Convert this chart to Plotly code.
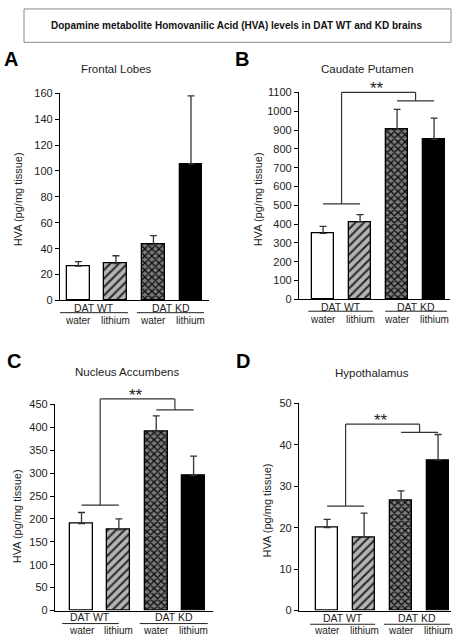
import plotly.graph_objects as go

W, H = 460, 644

# ---------------- data ----------------
groups = ["DAT WT", "DAT KD"]
treatments = ["water", "lithium", "water", "lithium"]
bar_x = [0, 1, 2, 3]

frontal_mean = [26.5, 28.5, 43, 105.5]
frontal_err = [3.5, 6, 7, 52.5]

caudate_mean = [351, 412, 903, 850]
caudate_err = [37, 38, 107, 113]

accumbens_mean = [190, 176, 390, 295]
accumbens_err = [24, 24, 35, 42]

hypo_mean = [20, 17.7, 26.5, 36.3]
hypo_err = [2, 5.8, 2.4, 6.2]

panel_titles = ["Frontal Lobes", "Caudate Putamen", "Nucleus Accumbens", "Hypothalamus"]
panel_letters = ["A", "B", "C", "D"]
header = "Dopamine metabolite Homovanilic Acid (HVA) levels in DAT WT and KD brains"
y_title = "HVA (pg/mg tissue)"

# significance brackets: (wt line level, top level, kd line level)
brackets = [None, (508, 1100, 1055), (230, 462, 438), (25.2, 45, 43)]

FONT = "Liberation Sans, Arial, sans-serif"

def px(x):
    return x / W

def py(y):
    return 1 - y / H

# panel geometry (pixels)
panels = [
    dict(xp=(60, 209), yp=(89, 300), xr=(-0.49, 3.48), yr=(0, 160), dt=20,
         mean=frontal_mean, err=frontal_err,
         title=(117, 64), letter=(10.5, 53.5), ytit=(18, 197),
         lab=(307.5, 312.5, 320), wt=(-0.49, 1.32), kd=(1.56, 3.35)),
    dict(xp=(299, 450), yp=(88, 299), xr=(-0.65, 3.43), yr=(0, 1100), dt=100,
         mean=caudate_mean, err=caudate_err,
         title=(367, 64), letter=(241.5, 53.5), ytit=(258, 197),
         lab=(306.5, 311, 319.5), wt=(-0.4, 1.35), kd=(1.68, 3.35)),
    dict(xp=(55, 213), yp=(406, 616), xr=(-0.71, 3.52), yr=(0, 450), dt=50,
         mean=accumbens_mean, err=accumbens_err,
         title=(127, 373), letter=(14, 362), ytit=(17, 520),
         lab=(622.5, 629.3, 636), wt=(-0.52, 1.0), kd=(1.56, 3.38)),
    dict(xp=(299, 451), yp=(405, 616), xr=(-0.76, 3.35), yr=(0, 50), dt=10,
         mean=hypo_mean, err=hypo_err,
         title=(372, 374), letter=(243, 362), ytit=(267, 514),
         lab=(623.5, 630, 636), wt=(-0.46, 1.3), kd=(1.54, 3.32)),
]

# bar styles: white / light-grey hatched / dark-grey cross-hatched / black
bar_styles = [
    dict(color="white", pattern=dict(shape="")),
    dict(color="#b4b4b4", pattern=dict(shape="/", fgcolor="#2a2a2a", fgopacity=1,
                                       size=6, solidity=0.35, fillmode="overlay")),
    dict(color="#7a7a7a", pattern=dict(shape="x", fgcolor="#0c0c0c", fgopacity=1,
                                       size=5, solidity=0.45, fillmode="overlay")),
    dict(color="black", pattern=dict(shape="")),
]

fig = go.Figure()
shapes = []
annotations = []

# header box
shapes.append(dict(type="rect", xref="paper", yref="paper",
                   x0=px(24), x1=px(451), y0=py(37), y1=py(3),
                   line=dict(color="#8a8a8a", width=1), fillcolor="rgba(0,0,0,0)"))
annotations.append(dict(text="<b>" + header + "</b>", xref="paper", yref="paper",
                        x=px(236), y=py(20), showarrow=False,
                        font=dict(size=10, color="#111", family=FONT),
                        xanchor="center", yanchor="middle"))

for i, p in enumerate(panels):
    n = "" if i == 0 else str(i + 1)
    xa, ya = "x" + n, "y" + n
    y0r, y1r = p["yr"]
    for j in range(4):
        st = bar_styles[j]
        fig.add_trace(go.Bar(
            x=[bar_x[j]], y=[p["mean"][j]], xaxis=xa, yaxis=ya, width=0.61,
            marker=dict(color=st["color"], line=dict(color="black", width=1.3),
                        pattern=st["pattern"]),
            error_y=dict(type="data", symmetric=False, array=[p["err"][j]],
                         arrayminus=[0], color="#333", thickness=1.3, width=3.5),
            showlegend=False, hoverinfo="skip"))

    fig.update_layout(**{
        ("xaxis" + n): dict(domain=[px(p["xp"][0]), px(p["xp"][1])], range=list(p["xr"]),
                            anchor=ya, showline=True, linecolor="black", linewidth=1.3,
                            showticklabels=False, ticks="", showgrid=False, zeroline=False),
        ("yaxis" + n): dict(domain=[py(p["yp"][1]), py(p["yp"][0])], range=list(p["yr"]),
                            anchor=xa, showline=True, linecolor="black", linewidth=1.3,
                            ticks="outside", ticklen=4, tickcolor="black", tickwidth=1.2,
                            dtick=p["dt"], tick0=0, showgrid=False, zeroline=False,
                            tickfont=dict(size=11, color="#222", family=FONT)),
    })

    # panel title and letter
    annotations.append(dict(text=panel_titles[i], xref="paper", yref="paper",
                            x=px(p["title"][0]), y=py(p["title"][1]), showarrow=False,
                            font=dict(size=11.5, color="#222", family=FONT),
                            xanchor="center", yanchor="middle"))
    annotations.append(dict(text="<b>" + panel_letters[i] + "</b>", xref="paper", yref="paper",
                            x=px(p["letter"][0]), y=py(p["letter"][1]), showarrow=False,
                            font=dict(size=20, color="black", family=FONT),
                            xanchor="center", yanchor="middle"))
    annotations.append(dict(text=y_title, xref="paper", yref="paper", textangle=-90,
                            x=px(p["ytit"][0]), y=py(p["ytit"][1]), showarrow=False,
                            font=dict(size=11, color="#222", family=FONT),
                            xanchor="center", yanchor="middle"))

    # category labels under the axis
    ty, ly, sy = p["lab"]
    for g, (a, b) in zip(groups, [p["wt"], p["kd"]]):
        annotations.append(dict(text=g, xref=xa, yref="paper", x=(a + b) / 2, y=py(ty),
                                showarrow=False, font=dict(size=10.5, color="#222", family=FONT),
                                xanchor="center", yanchor="middle"))
        shapes.append(dict(type="line", xref=xa, yref="paper", x0=a, x1=b,
                           y0=py(ly), y1=py(ly), line=dict(color="#222", width=1)))
    for xi, t in zip(bar_x, treatments):
        annotations.append(dict(text=t, xref=xa, yref="paper", x=xi, y=py(sy),
                                showarrow=False, font=dict(size=10, color="#222", family=FONT),
                                xanchor="center", yanchor="middle"))

    # significance bracket (y given as fraction of the axis span so it is not clipped)
    br = brackets[i]
    if br is not None:
        yd = ya + " domain"
        f = lambda v: (v - y0r) / (y1r - y0r)
        wt_y, top_y, kd_y = br
        segs = [(0, wt_y, 1, wt_y), (0.5, wt_y, 0.5, top_y), (0.5, top_y, 2.5, top_y),
                (2.5, top_y, 2.5, kd_y), (2, kd_y, 3, kd_y)]
        for x0, v0, x1, v1 in segs:
            shapes.append(dict(type="line", xref=xa, yref=yd, x0=x0, y0=f(v0), x1=x1, y1=f(v1),
                               line=dict(color="#333", width=1.2)))
        annotations.append(dict(text="**", xref=xa, yref=yd, x=1.45, y=f(top_y),
                                showarrow=False, yshift=-8,
                                font=dict(size=17, color="#222", family=FONT),
                                xanchor="center", yanchor="bottom"))

fig.update_layout(width=W, height=H, margin=dict(l=0, r=0, t=0, b=0),
                  paper_bgcolor="white", plot_bgcolor="white", barmode="overlay",
                  shapes=shapes, annotations=annotations, bargap=0,
                  font=dict(family=FONT))

fig.write_html("out.html", config={"displayModeBar": False},
               post_script="document.body.style.margin='0';")
